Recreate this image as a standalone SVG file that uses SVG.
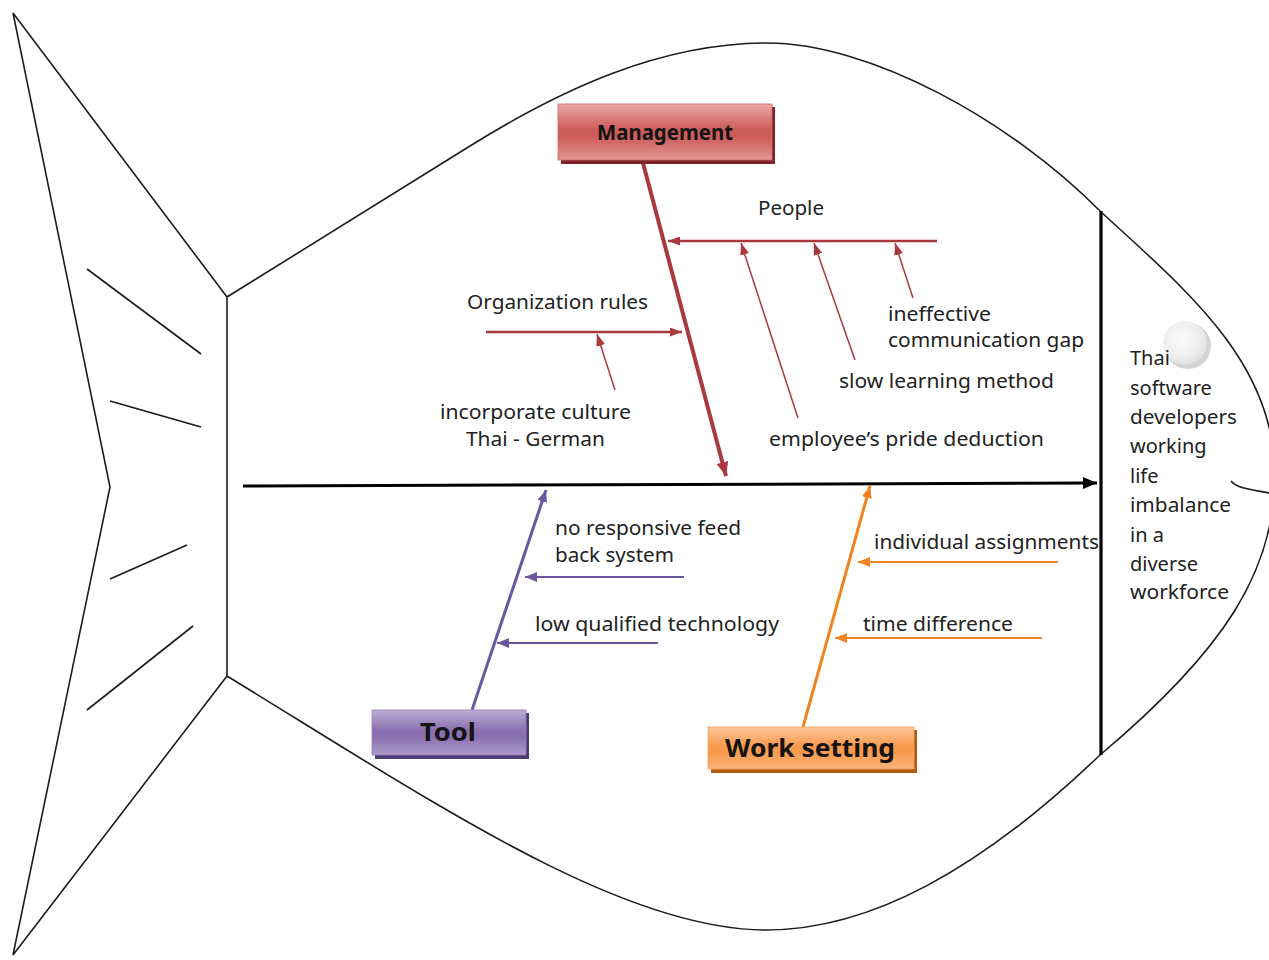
<svg xmlns="http://www.w3.org/2000/svg" width="1269" height="960" viewBox="0 0 1269 960">
<defs>
<style>
.outline{fill:none;stroke:#1c1c1c;stroke-width:1.6;stroke-linejoin:miter}
.lbl{font-family:"Noto Sans","Open Sans","DejaVu Sans",sans-serif;font-size:19px;fill:#222}
.eff{font-family:"Noto Sans","Open Sans","DejaVu Sans",sans-serif;font-size:20px;fill:#222}
.btxt{font-family:"Noto Sans","Open Sans","DejaVu Sans",sans-serif;font-weight:bold;fill:#141414;text-anchor:start}
.red{stroke:#a9393e;fill:none}
.pur{stroke:#6b579d;fill:none}
.org{stroke:#f0821f;fill:none}
</style>
<linearGradient id="gRed" x1="0" y1="0" x2="0" y2="1">
<stop offset="0" stop-color="#eba8a6"/><stop offset="0.45" stop-color="#cc5d5b"/><stop offset="0.6" stop-color="#cc5d5b"/><stop offset="1" stop-color="#e49795"/>
</linearGradient>
<linearGradient id="gPur" x1="0" y1="0" x2="0" y2="1">
<stop offset="0" stop-color="#bcaed3"/><stop offset="0.45" stop-color="#8a70b0"/><stop offset="0.6" stop-color="#8a70b0"/><stop offset="1" stop-color="#ad9bcb"/>
</linearGradient>
<linearGradient id="gOrg" x1="0" y1="0" x2="0" y2="1">
<stop offset="0" stop-color="#fcc89c"/><stop offset="0.45" stop-color="#f89a4e"/><stop offset="0.6" stop-color="#f89a4e"/><stop offset="1" stop-color="#fab27a"/>
</linearGradient>
<radialGradient id="gEye" cx="0.42" cy="0.4" r="0.6">
<stop offset="0" stop-color="#fbfbfb"/><stop offset="0.7" stop-color="#eeeeee"/><stop offset="1" stop-color="#e0e0e0"/>
</radialGradient>
<marker id="aBlack" markerUnits="userSpaceOnUse" markerWidth="14" markerHeight="12" viewBox="0 0 14 12" refX="14" refY="6" orient="auto"><path d="M0,0 L14,6 L0,12 z" fill="#000"/></marker>
<marker id="aRedBig" markerUnits="userSpaceOnUse" markerWidth="14" markerHeight="12" viewBox="0 0 14 12" refX="14" refY="6" orient="auto"><path d="M0,0 L14,6 L0,12 z" fill="#a9393e"/></marker>
<marker id="aRed" markerUnits="userSpaceOnUse" markerWidth="12" markerHeight="9" viewBox="0 0 12 9" refX="12" refY="4.5" orient="auto"><path d="M0,0 L12,4.5 L0,9 z" fill="#a9393e"/></marker>
<marker id="aPur" markerUnits="userSpaceOnUse" markerWidth="12" markerHeight="10" viewBox="0 0 12 10" refX="12" refY="5" orient="auto"><path d="M0,0 L12,5 L0,10 z" fill="#6b579d"/></marker>
<marker id="aOrg" markerUnits="userSpaceOnUse" markerWidth="12" markerHeight="10" viewBox="0 0 12 10" refX="12" refY="5" orient="auto"><path d="M0,0 L12,5 L0,10 z" fill="#f0821f"/></marker>
</defs>
<rect width="1269" height="960" fill="#fff"/>

<g id="fish">
<path class="outline" d="M227,297 L13,13 L110,487 L13,955 L227,676"/>
<path class="outline" d="M227,297 L470,146 C560,90 660,43 767,43 C870,43 1010,120 1100,211 C1180,285 1275,360 1275,475 C1275,570 1225,650 1100,755 C980,870 870,930 766,930 C620,930 430,800 227,676 Z"/>
<line class="outline" x1="87" y1="269" x2="201" y2="354"/>
<line class="outline" x1="110" y1="401" x2="201" y2="427"/>
<line class="outline" x1="110" y1="579" x2="187" y2="545"/>
<line class="outline" x1="87" y1="710" x2="193" y2="626"/>
<path d="M1231,481 C1236,487 1245,489 1270,493" fill="none" stroke="#1c1c1c" stroke-width="1.8"/>
<circle cx="1188" cy="346" r="23" fill="#c4c4c4" opacity="0.75"/>
<circle cx="1185" cy="343" r="22" fill="url(#gEye)"/>
</g>

<g id="connectors">
<line x1="243" y1="486" x2="1097" y2="483" stroke="#000" stroke-width="3" marker-end="url(#aBlack)"/>
<line x1="1101" y1="211" x2="1101" y2="755" stroke="#000" stroke-width="3.2"/>
<line class="red" x1="643" y1="163" x2="726" y2="476" stroke-width="4" marker-end="url(#aRedBig)"/>
<line class="red" x1="937" y1="241" x2="668" y2="241" stroke-width="2.4" marker-end="url(#aRed)"/>
<line class="red" x1="798" y1="418" x2="741" y2="243" stroke-width="1.5" marker-end="url(#aRed)"/>
<line class="red" x1="855" y1="360" x2="814" y2="243" stroke-width="1.5" marker-end="url(#aRed)"/>
<line class="red" x1="913" y1="298" x2="895" y2="243" stroke-width="1.5" marker-end="url(#aRed)"/>
<line class="red" x1="486" y1="332" x2="682" y2="332" stroke-width="2.4" marker-end="url(#aRed)"/>
<line class="red" x1="615" y1="390" x2="597" y2="334" stroke-width="1.5" marker-end="url(#aRed)"/>
<line class="pur" x1="472" y1="710" x2="546" y2="490" stroke-width="3" marker-end="url(#aPur)"/>
<line class="pur" x1="684" y1="577" x2="525" y2="577" stroke-width="2.2" marker-end="url(#aPur)"/>
<line class="pur" x1="658" y1="643" x2="497" y2="643" stroke-width="2.2" marker-end="url(#aPur)"/>
<line class="org" x1="803" y1="727" x2="870" y2="486" stroke-width="3" marker-end="url(#aOrg)"/>
<line class="org" x1="1058" y1="562" x2="858" y2="562" stroke-width="2.2" marker-end="url(#aOrg)"/>
<line class="org" x1="1042" y1="638" x2="835" y2="638" stroke-width="2.2" marker-end="url(#aOrg)"/>
</g>

<g id="management">
<rect x="561" y="107" width="214" height="57" fill="#7d2326"/>
<rect x="558" y="104" width="214" height="56" fill="url(#gRed)" stroke="#c66" stroke-width="0.8"/>
<text class="btxt" x="597" y="140" font-size="21" textLength="136" lengthAdjust="spacingAndGlyphs">Management</text>
</g>

<g id="tool">
<rect x="375" y="713" width="154" height="46" fill="#4a3a6e"/>
<rect x="372" y="710" width="154" height="45" fill="url(#gPur)" stroke="#9580bb" stroke-width="0.8"/>
<text class="btxt" x="420" y="741" font-size="25" textLength="56" lengthAdjust="spacingAndGlyphs">Tool</text>
</g>

<g id="work-setting">
<rect x="711" y="730" width="206" height="43" fill="#b45a10"/>
<rect x="708" y="727" width="206" height="42" fill="url(#gOrg)" stroke="#f5a060" stroke-width="0.8"/>
<text class="btxt" x="725" y="757" font-size="25" textLength="170" lengthAdjust="spacingAndGlyphs">Work setting</text>
</g>

<g id="people"><text class="lbl" x="758" y="215" textLength="66" lengthAdjust="spacingAndGlyphs">People</text></g>
<g id="organization-rules"><text class="lbl" x="467" y="309" textLength="181" lengthAdjust="spacingAndGlyphs">Organization rules</text></g>
<g id="ineffective-communication-gap">
<text class="lbl" x="888" y="321" textLength="103" lengthAdjust="spacingAndGlyphs">ineffective</text>
<text class="lbl" x="888" y="347" textLength="196" lengthAdjust="spacingAndGlyphs">communication gap</text>
</g>
<g id="slow-learning-method"><text class="lbl" x="839" y="388" textLength="215" lengthAdjust="spacingAndGlyphs">slow learning method</text></g>
<g id="incorporate-culture">
<text class="lbl" x="440" y="419" textLength="191" lengthAdjust="spacingAndGlyphs">incorporate culture</text>
<text class="lbl" x="466" y="446" textLength="139" lengthAdjust="spacingAndGlyphs">Thai - German</text>
</g>
<g id="employees-pride-deduction"><text class="lbl" x="769" y="446" textLength="275" lengthAdjust="spacingAndGlyphs">employee’s pride deduction</text></g>
<g id="no-responsive-feedback">
<text class="lbl" x="555" y="535" textLength="186" lengthAdjust="spacingAndGlyphs">no responsive feed</text>
<text class="lbl" x="555" y="562" textLength="119" lengthAdjust="spacingAndGlyphs">back system</text>
</g>
<g id="individual-assignments"><text class="lbl" x="874" y="549" textLength="225" lengthAdjust="spacingAndGlyphs">individual assignments</text></g>
<g id="low-qualified-technology"><text class="lbl" x="535" y="631" textLength="244" lengthAdjust="spacingAndGlyphs">low qualified technology</text></g>
<g id="time-difference"><text class="lbl" x="863" y="631" textLength="150" lengthAdjust="spacingAndGlyphs">time difference</text></g>

<g id="effect">
<text class="eff" x="1130" y="365">Thai</text>
<text class="eff" x="1130" y="395">software</text>
<text class="eff" x="1130" y="424" textLength="107" lengthAdjust="spacingAndGlyphs">developers</text>
<text class="eff" x="1130" y="453">working</text>
<text class="eff" x="1130" y="483">life</text>
<text class="eff" x="1130" y="512" textLength="101" lengthAdjust="spacingAndGlyphs">imbalance</text>
<text class="eff" x="1130" y="542">in a</text>
<text class="eff" x="1130" y="571">diverse</text>
<text class="eff" x="1130" y="599" textLength="99" lengthAdjust="spacingAndGlyphs">workforce</text>
</g>
</svg>
